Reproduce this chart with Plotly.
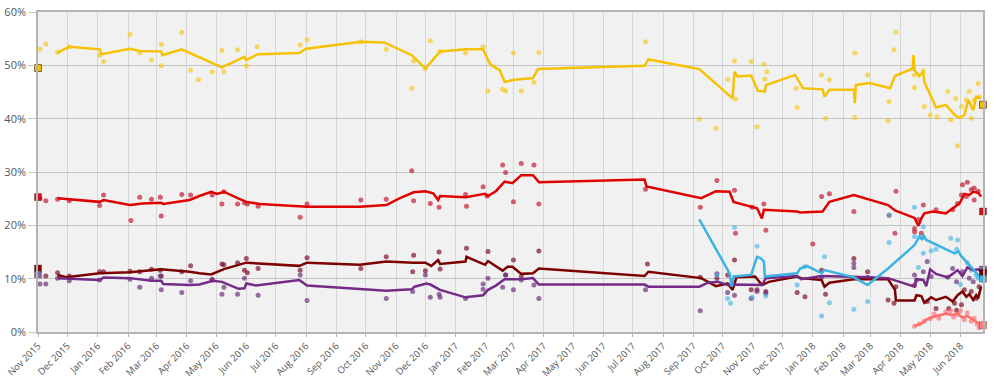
import plotly.graph_objects as go

# ---------------- DATA ----------------
AKP_TREND_DATES = ["2015-11-21","2015-12-03","2016-01-03","2016-01-05","2016-02-03","2016-02-13","2016-03-06","2016-03-07","2016-03-27","2016-04-14","2016-05-07","2016-05-30","2016-06-01","2016-06-13","2016-07-25","2016-08-01","2016-09-26","2016-10-20","2016-11-17","2016-12-01","2016-12-16","2017-01-12","2017-01-29","2017-02-03","2017-02-06","2017-02-15","2017-02-20","2017-03-02","2017-03-21","2017-03-26","2017-07-13","2017-07-17","2017-09-07","2017-10-11","2017-10-13","2017-10-16","2017-10-30","2017-11-06","2017-11-13","2017-11-14","2017-12-14","2017-12-22","2018-01-11","2018-01-13","2018-01-18","2018-02-12","2018-02-13","2018-02-14","2018-02-28","2018-03-21","2018-03-26","2018-04-13","2018-04-14","2018-04-15","2018-04-20","2018-04-24","2018-04-25","2018-05-07","2018-05-17","2018-05-26","2018-05-31","2018-06-05","2018-06-09","2018-06-14","2018-06-17","2018-06-22"]
AKP_TREND_VALUES = [52.4,53.5,53.0,52.1,53.1,52.7,52.6,51.9,53.0,51.5,49.6,51.6,51.0,52.1,52.3,53.1,54.4,54.3,51.9,49.4,52.6,53.0,53.0,51.0,50.1,49.1,46.9,47.3,47.6,49.3,49.9,51.1,49.3,43.8,48.8,47.9,48.1,45.2,45.1,46.3,48.2,45.7,45.5,44.1,45.4,45.4,42.9,46.3,46.7,45.7,48.0,49.4,51.9,49.1,48.0,48.8,46.9,42.1,42.6,40.7,40.1,40.7,43.5,41.6,44.1,43.8]

AKP_POLL_DATES = ["2015-11-03","2015-11-09","2015-11-21","2015-12-03","2016-01-03","2016-01-07","2016-02-03","2016-02-13","2016-02-25","2016-03-06","2016-03-06","2016-03-27","2016-04-05","2016-04-13","2016-04-27","2016-05-07","2016-05-09","2016-05-23","2016-06-01","2016-06-12","2016-07-26","2016-08-02","2016-09-26","2016-10-22","2016-11-17","2016-11-19","2016-12-01","2016-12-06","2016-12-16","2017-01-11","2017-01-29","2017-02-03","2017-02-18","2017-02-21","2017-03-01","2017-03-09","2017-03-22","2017-03-27","2017-07-14","2017-09-07","2017-09-24","2017-10-06","2017-10-13","2017-10-14","2017-10-30","2017-11-05","2017-11-12","2017-11-13","2017-11-15","2017-12-15","2017-12-16","2018-01-10","2018-01-14","2018-01-18","2018-02-13","2018-02-13","2018-02-26","2018-03-19","2018-03-20","2018-03-25","2018-03-27","2018-04-15","2018-04-15","2018-04-24","2018-04-25","2018-05-01","2018-05-08","2018-05-19","2018-05-22","2018-05-27","2018-05-29","2018-06-02","2018-06-07","2018-06-10","2018-06-12","2018-06-15","2018-06-19","2018-06-20"]
AKP_POLL_VALUES = [53.0,54.0,52.4,53.5,51.9,50.7,55.8,52.3,51.0,53.9,49.9,56.2,49.1,47.3,48.8,52.8,48.8,52.9,49.9,53.5,53.8,54.8,54.4,53.0,45.7,50.8,49.4,54.6,52.6,52.3,53.5,45.2,45.5,45.2,52.3,45.2,46.8,52.4,54.4,39.9,38.2,47.4,50.8,43.7,50.7,38.5,50.2,47.4,48.8,45.7,42.1,48.2,40.1,47.3,52.3,40.2,48.2,39.6,43.2,52.9,56.2,48.2,45.8,49.0,42.3,40.7,40.3,45.1,39.8,43.8,34.9,42.3,43.5,45.1,40.1,43.5,46.6,44.1]

CHP_TREND_DATES = ["2015-11-21","2015-12-03","2016-01-03","2016-01-07","2016-02-03","2016-02-16","2016-03-06","2016-03-08","2016-04-04","2016-04-14","2016-04-26","2016-05-02","2016-05-09","2016-05-23","2016-06-01","2016-06-15","2016-08-02","2016-09-25","2016-10-22","2016-11-05","2016-11-19","2016-12-01","2016-12-09","2016-12-14","2016-12-16","2017-01-11","2017-01-31","2017-02-03","2017-02-11","2017-02-20","2017-02-28","2017-03-09","2017-03-21","2017-03-27","2017-07-13","2017-07-15","2017-09-09","2017-09-24","2017-10-08","2017-10-12","2017-10-31","2017-11-05","2017-11-10","2017-11-12","2017-12-16","2017-12-19","2018-01-11","2018-01-18","2018-02-12","2018-03-19","2018-03-26","2018-04-15","2018-04-19","2018-04-22","2018-04-25","2018-05-04","2018-05-17","2018-05-26","2018-05-31","2018-06-05","2018-06-10","2018-06-14","2018-06-19","2018-06-22"]
CHP_TREND_VALUES = [25.1,24.9,24.4,24.75,23.8,24.1,24.25,24.0,24.75,25.5,26.3,25.9,26.3,25.1,24.4,24.0,23.5,23.5,23.8,25.1,26.2,26.4,26.0,24.75,25.5,25.25,25.9,25.5,26.4,28.2,27.9,29.4,29.4,28.1,28.6,27.3,25.1,26.4,26.3,24.4,23.5,23.2,21.3,22.9,22.6,22.4,22.6,24.4,25.7,23.8,22.8,21.4,19.9,21.3,22.25,22.6,22.25,23.5,24.1,25.9,25.7,26.3,26.1,25.4]

CHP_POLL_DATES = ["2015-11-03","2015-11-09","2015-11-21","2015-12-03","2016-01-03","2016-01-07","2016-02-04","2016-02-13","2016-02-25","2016-03-05","2016-03-06","2016-03-27","2016-04-05","2016-04-27","2016-05-07","2016-05-09","2016-05-23","2016-05-30","2016-06-02","2016-06-13","2016-07-26","2016-08-02","2016-09-26","2016-10-22","2016-11-17","2016-11-19","2016-12-06","2016-12-15","2017-01-11","2017-01-12","2017-01-29","2017-02-02","2017-02-18","2017-02-21","2017-03-01","2017-03-09","2017-03-22","2017-03-27","2017-07-14","2017-09-08","2017-09-25","2017-10-13","2017-10-14","2017-10-31","2017-11-12","2017-11-14","2018-01-01","2018-01-10","2018-01-18","2018-02-12","2018-03-20","2018-03-26","2018-03-27","2018-04-15","2018-04-15","2018-04-19","2018-04-22","2018-04-24","2018-05-07","2018-05-24","2018-05-29","2018-06-02","2018-06-03","2018-06-07","2018-06-08","2018-06-12","2018-06-15","2018-06-15","2018-06-19"]
CHP_POLL_VALUES = [25.1,24.6,24.9,24.6,23.7,25.7,20.9,25.25,24.9,25.25,21.75,25.8,25.7,25.7,24.0,26.3,24.0,24.25,24.0,23.6,21.5,24.0,24.75,24.9,30.25,24.6,24.1,23.4,25.8,23.6,27.25,25.5,31.3,29.9,24.4,31.6,31.3,24.0,26.75,23.4,28.4,26.6,18.5,23.4,24.0,19.1,16.5,25.4,25.9,22.6,21.9,18.5,26.4,18.8,19.4,21.1,18.5,23.8,22.9,22.9,24.1,25.7,27.6,25.4,28.1,26.7,24.75,27.0,26.4]

MHP_TREND_DATES = ["2015-11-21","2015-11-30","2016-01-03","2016-02-03","2016-03-06","2016-04-04","2016-04-14","2016-04-26","2016-05-09","2016-05-23","2016-06-01","2016-07-25","2016-08-02","2016-09-25","2016-10-22","2016-11-19","2016-12-01","2016-12-07","2016-12-14","2016-12-16","2017-01-11","2017-01-12","2017-01-19","2017-01-31","2017-02-03","2017-02-18","2017-02-23","2017-02-28","2017-03-09","2017-03-21","2017-03-27","2017-07-13","2017-07-17","2017-09-09","2017-09-24","2017-10-06","2017-10-11","2017-10-15","2017-11-03","2017-11-10","2017-11-17","2017-12-16","2017-12-20","2018-01-10","2018-01-13","2018-01-18","2018-02-12","2018-02-24","2018-03-19","2018-03-26","2018-03-27","2018-04-15","2018-04-17","2018-04-22","2018-04-25","2018-05-02","2018-05-07","2018-05-17","2018-05-24","2018-05-29","2018-06-03","2018-06-07","2018-06-10","2018-06-14","2018-06-17","2018-06-19","2018-06-22"]
MHP_TREND_VALUES = [10.7,10.25,11.0,11.2,11.75,11.3,11.0,10.8,11.8,12.6,13.0,12.4,13.0,12.6,13.2,13.0,13.0,12.4,13.5,12.75,13.2,14.1,13.5,12.6,13.3,11.5,12.25,12.25,10.9,11.0,11.9,10.5,11.3,10.1,8.6,9.1,7.9,10.25,10.4,8.8,9.4,10.4,10.1,9.75,8.5,9.25,9.9,9.9,9.9,7.9,5.9,5.9,6.9,6.75,5.5,6.5,6.0,6.6,5.7,6.9,7.6,6.6,7.1,6.0,6.9,6.3,8.5]

MHP_POLL_DATES = ["2015-11-09","2015-11-21","2015-12-03","2016-01-03","2016-01-07","2016-02-03","2016-02-13","2016-02-25","2016-03-05","2016-03-06","2016-03-27","2016-04-05","2016-04-27","2016-05-07","2016-05-09","2016-05-23","2016-05-30","2016-06-01","2016-06-02","2016-06-13","2016-07-26","2016-08-02","2016-09-26","2016-10-22","2016-11-18","2016-11-19","2016-12-01","2016-12-15","2016-12-16","2017-01-12","2017-02-03","2017-02-21","2017-03-01","2017-03-09","2017-03-27","2017-07-16","2017-09-08","2017-09-25","2017-10-06","2017-10-13","2017-10-30","2017-11-05","2017-11-14","2017-12-16","2017-12-24","2018-01-10","2018-01-14","2018-02-12","2018-02-26","2018-03-19","2018-03-25","2018-03-27","2018-04-15","2018-04-28","2018-05-07","2018-05-20","2018-05-26","2018-05-28","2018-06-02","2018-06-05","2018-06-12","2018-06-17","2018-06-20"]
MHP_POLL_VALUES = [10.5,11.1,10.5,11.3,11.3,11.4,11.3,11.75,11.6,10.5,11.3,12.4,9.75,12.75,12.6,13.0,11.6,13.8,11.1,11.9,11.6,13.9,11.9,14.1,11.3,14.4,11.5,15.0,11.8,15.7,15.1,10.7,13.5,10.4,15.2,12.75,10.25,10.1,10.7,13.5,7.9,7.9,7.6,7.4,6.6,11.6,7.1,13.8,11.3,6.0,5.4,8.5,8.8,5.7,4.4,4.4,5.4,4.1,5.1,7.9,7.6,6.3,8.5]

HDP_TREND_DATES = ["2015-11-21","2016-01-03","2016-01-07","2016-02-03","2016-02-25","2016-03-06","2016-03-08","2016-04-04","2016-04-14","2016-04-28","2016-05-07","2016-05-24","2016-05-30","2016-06-01","2016-06-11","2016-07-25","2016-08-02","2016-09-25","2016-10-22","2016-11-17","2016-11-20","2016-12-02","2016-12-06","2016-12-16","2017-01-11","2017-01-29","2017-02-03","2017-02-11","2017-02-20","2017-03-09","2017-03-21","2017-03-27","2017-07-13","2017-07-17","2017-09-07","2017-09-16","2017-09-26","2017-10-06","2017-10-11","2017-11-10","2017-11-14","2017-12-16","2017-12-20","2018-01-10","2018-02-12","2018-02-28","2018-03-19","2018-04-10","2018-04-15","2018-04-17","2018-04-24","2018-04-27","2018-05-01","2018-05-07","2018-05-19","2018-05-24","2018-05-29","2018-06-03","2018-06-08","2018-06-14","2018-06-19","2018-06-22"]
HDP_TREND_VALUES = [10.1,9.75,10.2,10.1,9.6,9.6,9.0,8.8,8.9,9.6,9.4,8.1,8.2,9.1,8.7,9.75,8.7,8.0,7.75,8.0,8.5,9.1,8.9,7.9,6.5,6.9,7.9,8.7,9.9,9.9,10.1,8.9,8.9,8.5,8.5,9.25,9.4,8.8,8.9,8.8,10.1,10.5,9.9,10.5,10.4,10.25,10.1,8.8,8.5,9.9,9.75,8.6,11.75,10.9,10.25,10.9,11.6,10.5,12.1,11.6,11.75,11.3]

HDP_POLL_DATES = ["2015-11-03","2015-11-09","2015-11-21","2015-12-03","2016-01-03","2016-02-03","2016-02-13","2016-02-25","2016-03-05","2016-03-06","2016-03-27","2016-04-05","2016-04-27","2016-05-07","2016-05-09","2016-05-23","2016-05-30","2016-06-13","2016-07-26","2016-08-02","2016-10-22","2016-11-18","2016-12-01","2016-12-06","2016-12-15","2016-12-16","2017-01-11","2017-01-29","2017-01-29","2017-02-03","2017-02-18","2017-02-21","2017-03-01","2017-03-09","2017-03-22","2017-03-27","2017-07-14","2017-09-08","2017-09-25","2017-10-06","2017-10-13","2017-10-30","2017-11-05","2017-11-14","2018-01-10","2018-02-12","2018-02-12","2018-02-26","2018-04-15","2018-04-17","2018-04-24","2018-04-28","2018-05-02","2018-05-19","2018-05-24","2018-05-28","2018-06-03","2018-06-10","2018-06-14"]
HDP_POLL_VALUES = [9.0,9.0,10.1,9.6,9.75,9.9,8.4,10.1,10.5,7.9,7.4,9.6,9.9,7.1,8.4,7.1,10.1,6.9,10.7,5.9,6.3,7.6,10.7,6.5,7.1,6.5,6.3,9.0,8.0,10.1,8.4,10.7,7.9,9.75,8.8,6.3,7.9,4.0,10.9,7.4,6.9,6.3,7.6,7.25,10.25,12.9,12.1,10.25,10.7,9.75,11.3,13.2,10.4,10.25,11.9,9.4,11.3,10.1,9.4]

IYI_TREND_DATES = ["2017-09-07","2017-10-08","2017-10-10","2017-10-12","2017-10-30","2017-11-05","2017-11-09","2017-11-12","2017-11-13","2017-12-02","2017-12-16","2017-12-19","2017-12-26","2018-01-10","2018-01-13","2018-02-12","2018-02-26","2018-03-19","2018-04-13","2018-04-15","2018-04-20","2018-04-23","2018-04-24","2018-04-27","2018-05-26","2018-05-30","2018-06-01","2018-06-10","2018-06-17","2018-06-20","2018-06-22"]
IYI_TREND_VALUES = [21.1,11.0,8.5,10.4,10.7,14.1,13.8,13.2,10.4,10.8,11.0,11.9,12.4,11.0,11.6,10.25,8.8,11.9,15.9,16.3,17.9,17.25,18.2,17.25,14.75,15.1,14.4,12.6,11.0,10.4,10.1]

IYI_POLL_DATES = ["2017-09-25","2017-10-06","2017-10-09","2017-10-13","2017-10-31","2017-11-05","2017-11-14","2017-12-16","2017-12-24","2018-01-10","2018-01-13","2018-01-18","2018-02-12","2018-02-26","2018-03-20","2018-03-20","2018-04-15","2018-04-15","2018-04-19","2018-04-24","2018-04-24","2018-05-02","2018-05-07","2018-05-22","2018-05-28","2018-05-29","2018-06-01","2018-06-08","2018-06-12","2018-06-17","2018-06-19"]
IYI_POLL_VALUES = [10.7,6.3,5.4,19.6,6.5,16.1,6.75,8.8,12.25,3.0,14.1,5.5,4.25,5.7,16.8,21.9,23.4,17.9,12.1,19.75,14.75,15.25,15.5,17.6,15.5,17.25,8.9,13.0,11.6,10.7,10.1]

SP_TREND_DATES = ["2018-04-15","2018-04-22","2018-04-28","2018-05-07","2018-05-17","2018-05-24","2018-05-29","2018-06-03","2018-06-08","2018-06-14","2018-06-19","2018-06-22"]
SP_TREND_VALUES = [1.1,1.6,2.4,3.0,3.4,3.2,3.5,2.7,3.0,2.25,1.6,1.3]

SP_POLL_DATES = ["2018-04-15","2018-04-20","2018-04-25","2018-05-01","2018-05-05","2018-05-10","2018-05-17","2018-05-22","2018-05-25","2018-05-29","2018-06-01","2018-06-05","2018-06-08","2018-06-12","2018-06-15","2018-06-18","2018-06-20","2018-06-22"]
SP_POLL_VALUES = [1.1,1.5,2.0,2.5,3.4,2.6,3.8,4.0,2.8,3.3,4.0,2.3,3.6,2.0,2.6,1.5,0.8,1.1]

ELECTION_2015_DATE = "2015-11-01"
ELECTION_2015 = {"AKP": 49.5, "CHP": 25.3, "MHP": 11.9, "HDP": 10.8}
ELECTION_2018_DATE = "2018-06-24"
ELECTION_2018 = {"AKP": 42.6, "CHP": 22.6, "HDP": 11.7, "MHP": 11.1, "IYI": 10.0, "SP": 1.3}

X_RANGE = ["2015-11-01", "2018-06-24"]

# ---------------- STYLE ----------------
LINE_COLORS = {"AKP": "#f6c200", "CHP": "#e00000", "MHP": "#7d0000", "HDP": "#742a86",
               "IYI": "#3cb2e4", "SP": "#ff6c6c"}
DOT_COLORS = {"AKP": "rgba(247,196,0,0.6)", "CHP": "rgba(196,30,55,0.7)",
              "MHP": "rgba(125,20,45,0.7)", "HDP": "rgba(110,50,125,0.7)",
              "IYI": "rgba(60,178,228,0.6)", "SP": "rgba(255,100,110,0.6)"}
SQUARE_COLORS = {"AKP": "#f3c000", "CHP": "#cc1020", "MHP": "#7a0000", "HDP": "#7a6aa8",
                 "IYI": "#3cb2e4", "SP": "#ff8080"}

series = [
    ("AKP", AKP_TREND_DATES, AKP_TREND_VALUES, AKP_POLL_DATES, AKP_POLL_VALUES),
    ("CHP", CHP_TREND_DATES, CHP_TREND_VALUES, CHP_POLL_DATES, CHP_POLL_VALUES),
    ("MHP", MHP_TREND_DATES, MHP_TREND_VALUES, MHP_POLL_DATES, MHP_POLL_VALUES),
    ("HDP", HDP_TREND_DATES, HDP_TREND_VALUES, HDP_POLL_DATES, HDP_POLL_VALUES),
    ("IYI", IYI_TREND_DATES, IYI_TREND_VALUES, IYI_POLL_DATES, IYI_POLL_VALUES),
    ("SP", SP_TREND_DATES, SP_TREND_VALUES, SP_POLL_DATES, SP_POLL_VALUES),
]

fig = go.Figure()

for name, td, tv, pd_, pv in series:
    fig.add_trace(go.Scatter(x=pd_, y=pv, mode="markers", name=name + " polls",
                             marker=dict(size=5, color=DOT_COLORS[name]),
                             hoverinfo="skip", showlegend=False))

for name, td, tv, pd_, pv in series:
    fig.add_trace(go.Scatter(x=td, y=tv, mode="lines", name=name,
                             line=dict(color=LINE_COLORS[name], width=2.5),
                             showlegend=False))

for date, results in [(ELECTION_2015_DATE, ELECTION_2015), (ELECTION_2018_DATE, ELECTION_2018)]:
    for name, val in results.items():
        fig.add_trace(go.Scatter(x=[date], y=[val], mode="markers", cliponaxis=False,
                                 marker=dict(symbol="square", size=7, color=SQUARE_COLORS[name],
                                             line=dict(color="rgba(90,60,0,0.7)" if name == "AKP" else "rgba(60,0,0,0.3)", width=1)),
                                 showlegend=False))

fig.update_layout(
    width=1000, height=380,
    margin=dict(l=38, r=17, t=12, b=48),
    paper_bgcolor="white",
    plot_bgcolor="#f1f1f1",
    font=dict(family="Open Sans, DejaVu Sans, sans-serif", color="#555555"),
    showlegend=False,
)
fig.update_xaxes(
    range=X_RANGE, type="date", dtick="M1", tick0="2015-11-01", tickformat="%b %Y",
    tickangle=-45, tickfont=dict(size=9.5, color="#555555"),
    showgrid=True, gridcolor="#d6d6d6", gridwidth=1,
    showline=True, linecolor="#b4b4b4", linewidth=1.5, mirror=True,
    ticks="outside", ticklen=3, tickcolor="#b4b4b4",
    automargin=False, zeroline=False,
)
fig.update_yaxes(
    range=[0, 60], dtick=10, ticksuffix="%", tickfont=dict(size=11, color="#555555"),
    showgrid=True, gridcolor="#c4c4c4", gridwidth=1.2,
    showline=True, linecolor="#b4b4b4", linewidth=1.5, mirror=True,
    ticks="outside", ticklen=8, tickcolor="#c4c4c4",
    automargin=False, zeroline=False,
)

fig.write_html("out.html", config={"displayModeBar": False},
               post_script="document.body.style.margin='0';document.body.style.overflow='hidden';")
